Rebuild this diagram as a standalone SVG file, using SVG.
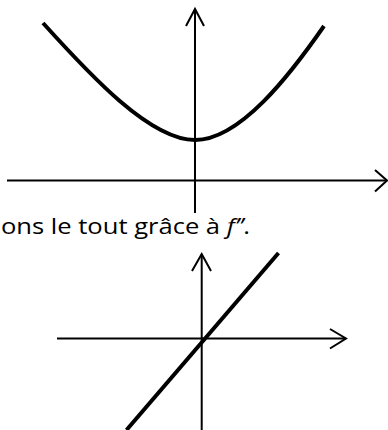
<svg xmlns="http://www.w3.org/2000/svg" width="388" height="430" viewBox="0 0 388 430">
<style>
.axis{stroke:#000;stroke-width:2;fill:none}
.head{stroke:#000;stroke-width:2;fill:none;stroke-linejoin:miter}
.curve{stroke:#000;stroke-width:4;fill:none;stroke-linecap:butt}
.txt{font-family:"Open Sans","Noto Sans",sans-serif;font-size:22.5px;fill:#000}
</style>
<rect width="388" height="430" fill="#fff"/>
<g id="graph1">
<line class="axis" x1="195" y1="9" x2="195" y2="213"/>
<polyline class="head" points="186,26 195,9 204,26"/>
<line class="axis" x1="7" y1="180.5" x2="386" y2="180.5"/>
<polyline class="head" points="375,170 387,180.5 375,191.5"/>
<path class="curve" d="M43,23 C90,75 150,140 195,140 C240,140 290,75 324,26"/>
</g>
<g id="caption">
<text class="txt" x="1" y="233.5" textLength="249" lengthAdjust="spacingAndGlyphs">ons le tout grâce à <tspan font-style="italic">f’’</tspan>.</text>
</g>
<g id="graph2">
<line class="axis" x1="201.7" y1="254" x2="201.7" y2="430"/>
<polyline class="head" points="192,271 201.7,254 211,271"/>
<line class="axis" x1="57" y1="338.5" x2="346" y2="338.5"/>
<polyline class="head" points="330,329 346,338.5 330,348.5"/>
<line class="curve" x1="278.5" y1="253" x2="126.5" y2="430"/>
</g>
</svg>
